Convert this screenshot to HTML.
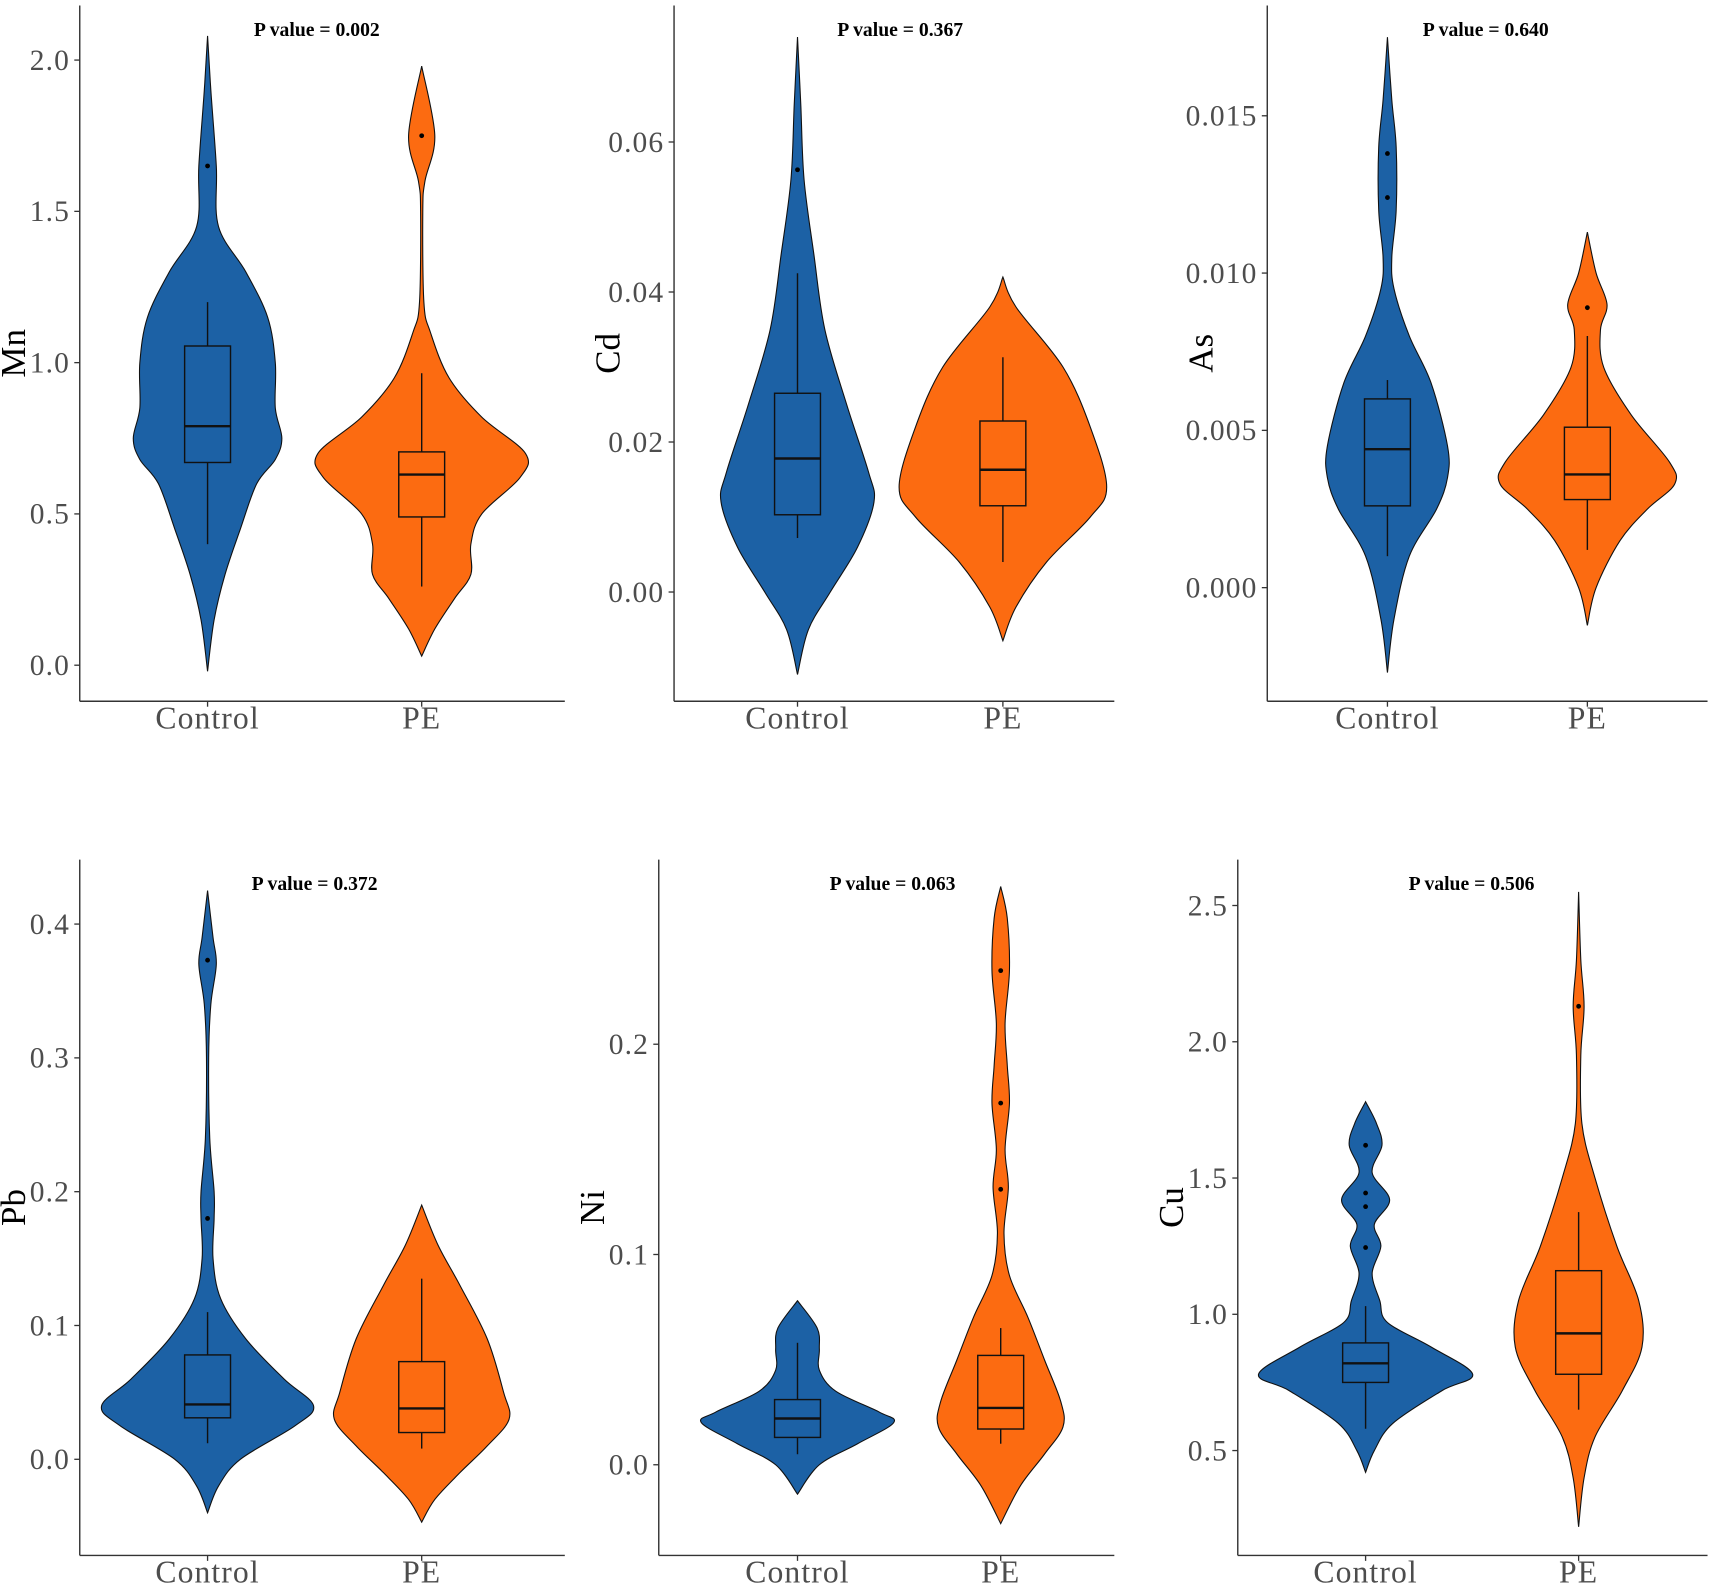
<!DOCTYPE html>
<html><head><meta charset="utf-8">
<style>html,body{margin:0;padding:0;background:#fff;}svg{display:block;}text{font-family:"Liberation Serif",serif;}</style>
</head><body>
<svg id="c" width="1713" height="1586" viewBox="0 0 1568 1452" preserveAspectRatio="none" xmlns="http://www.w3.org/2000/svg"></svg>
<script>
const groups = ["Control","PE"];
const titles = ["Mn","Cd","As","Pb","Ni","Cu"];
const pvalues = ["0.002","0.367","0.640","0.372","0.063","0.506"];
const tickLabels = [["0.0","0.5","1.0","1.5","2.0"],["0.00","0.02","0.04","0.06"],["0.000","0.005","0.010","0.015"],["0.0","0.1","0.2","0.3","0.4"],["0.0","0.1","0.2"],["0.5","1.0","1.5","2.0","2.5"]];
const tickValues = [[0,0.5,1,1.5,2],[0,0.02,0.04,0.06],[0,0.005,0.01,0.015],[0,0.1,0.2,0.3,0.4],[0,0.1,0.2],[0.5,1,1.5,2,2.5]];
// violin density profiles: [value, relative half-width]
const violinControl = [
 [[2.08,0],[1.9,3],[1.65,8],[1.45,10],[1.3,35],[1.15,55],[1.0,62],[0.85,62],[0.75,68],[0.68,62],[0.6,45],[0.45,30],[0.3,16],[0.15,6],[-0.02,0]],
 [[0.074,0],[0.065,3],[0.055,6],[0.045,15],[0.035,25],[0.025,45],[0.016,65],[0.012,70],[0.006,55],[0.0,30],[-0.005,10],[-0.011,0]],
 [[0.0175,0],[0.0155,4],[0.014,8],[0.012,8],[0.0105,4],[0.0095,6],[0.008,20],[0.0065,40],[0.0045,55],[0.0035,55],[0.0025,45],[0.001,20],[-0.001,6],[-0.0027,0]],
 [[0.425,0],[0.39,5],[0.37,8],[0.34,3],[0.3,1],[0.24,2],[0.2,6],[0.18,6],[0.15,5],[0.12,12],[0.09,35],[0.06,70],[0.04,97],[0.025,80],[0.0,30],[-0.02,10],[-0.04,0]],
 [[0.078,0],[0.065,18],[0.055,20],[0.045,20],[0.035,35],[0.025,75],[0.02,88],[0.01,55],[0.0,20],[-0.014,0]],
 [[1.78,0],[1.7,10],[1.62,15],[1.52,6],[1.42,22],[1.33,8],[1.25,14],[1.15,6],[1.05,13],[0.97,20],[0.88,60],[0.78,98],[0.72,70],[0.6,25],[0.5,8],[0.42,0]]
];
const violinPE = [
 [[1.98,0],[1.75,12],[1.6,3],[1.5,1],[1.2,2],[1.1,8],[0.95,25],[0.82,55],[0.7,95],[0.62,90],[0.5,55],[0.4,45],[0.3,45],[0.22,30],[0.12,12],[0.03,0]],
 [[0.042,0],[0.038,12],[0.03,55],[0.022,80],[0.014,95],[0.01,80],[0.004,40],[-0.002,12],[-0.0065,0]],
 [[0.0113,0],[0.01,8],[0.009,18],[0.0082,12],[0.007,15],[0.0055,40],[0.004,75],[0.0033,80],[0.0025,55],[0.0015,30],[0.0,8],[-0.0012,0]],
 [[0.19,0],[0.16,15],[0.13,35],[0.09,60],[0.05,75],[0.03,80],[0.01,60],[-0.01,35],[-0.03,12],[-0.047,0]],
 [[0.275,0],[0.26,6],[0.235,8],[0.21,4],[0.19,6],[0.172,8],[0.15,4],[0.132,7],[0.11,3],[0.09,8],[0.07,25],[0.05,40],[0.03,55],[0.018,57],[0.005,40],[-0.01,18],[-0.028,0]],
 [[2.55,0],[2.3,2],[2.13,5],[1.95,2],[1.7,3],[1.5,15],[1.25,35],[1.05,55],[0.88,58],[0.72,40],[0.55,15],[0.4,5],[0.22,0]]
];
// box stats: [lowWhisker, q1, median, q3, highWhisker]
const boxControl = [[0.4,0.67,0.79,1.055,1.2],[0.0072,0.0103,0.0178,0.0265,0.0425],[0.001,0.0026,0.0044,0.006,0.0066],[0.012,0.031,0.041,0.078,0.11],[0.005,0.013,0.022,0.031,0.058],[0.58,0.75,0.82,0.895,1.03]];
const boxPE = [[0.26,0.49,0.63,0.705,0.965],[0.004,0.0115,0.0163,0.0228,0.0313],[0.0012,0.0028,0.0036,0.0051,0.008],[0.008,0.02,0.038,0.073,0.135],[0.01,0.017,0.027,0.052,0.065],[0.65,0.78,0.93,1.16,1.375]];
const outControl = [[1.65],[0.0563],[0.0138,0.0124],[0.373,0.18],[],[1.62,1.445,1.395,1.245]];
const outPE = [[1.75],[],[0.0089],[],[0.235,0.172,0.131],[2.13]];

const panels = [
 {ax:73,right:517,top:5,bottom:642,cx:[190,386],v0:0,y0:609,v1:2,y1:55,pt:290},
 {ax:617,right:1020,top:5,bottom:642,cx:[730,918],v0:0,y0:542,v1:0.06,y1:130,pt:824},
 {ax:1160,right:1563,top:5,bottom:642,cx:[1270,1453],v0:0,y0:538,v1:0.015,y1:106,pt:1360},
 {ax:73,right:517,top:787,bottom:1424,cx:[190,386],v0:0,y0:1336,v1:0.4,y1:846,pt:288},
 {ax:603,right:1020,top:787,bottom:1424,cx:[730,916],v0:0,y0:1341,v1:0.2,y1:956,pt:817},
 {ax:1133,right:1563,top:787,bottom:1424,cx:[1250,1445],v0:0.5,y0:1328,v1:2.5,y1:829,pt:1347}
];
const colors = ["#1c61a5","#fc6b11"];
const svg = document.getElementById('c');
const NS = "http://www.w3.org/2000/svg";
function mk(tag, attrs, parent){const e=document.createElementNS(NS,tag);for(const k in attrs)e.setAttribute(k,attrs[k]);(parent||svg).appendChild(e);return e;}
function smooth(pts){
  let d="M"+pts[0][0]+","+pts[0][1];
  for(let i=0;i<pts.length-1;i++){
    const p0=pts[Math.max(0,i-1)],p1=pts[i],p2=pts[i+1],p3=pts[Math.min(pts.length-1,i+2)];
    const c1=[p1[0]+(p2[0]-p0[0])/6,p1[1]+(p2[1]-p0[1])/6];
    const c2=[p2[0]-(p3[0]-p1[0])/6,p2[1]-(p3[1]-p1[1])/6];
    d+=" C"+c1[0]+","+c1[1]+" "+c2[0]+","+c2[1]+" "+p2[0]+","+p2[1];
  }
  return d;
}
panels.forEach((p,i)=>{
  const y = v => p.y0 + (v-p.v0)*(p.y1-p.y0)/(p.v1-p.v0);
  const g = mk('g',{});
  
  
  const ya = mk('line',{x1:p.ax,y1:p.top,x2:p.ax,y2:p.bottom,stroke:'#333','stroke-width':1.3},g);
  
  
  const xa = mk('line',{x1:p.ax,y1:p.bottom,x2:p.right,y2:p.bottom,stroke:'#333','stroke-width':1.3},g);
  
  
  tickValues[i].forEach((tv,j)=>{
    const yy=y(tv);
    mk('line',{x1:p.ax-5,y1:yy,x2:p.ax,y2:yy,stroke:'#333','stroke-width':1.2},g);
    const t=mk('text',{x:p.ax-9,y:yy+9,'text-anchor':'end','font-size':27,fill:'#4d4d4d','letter-spacing':1},g);
    t.textContent=tickLabels[i][j];
    
    
  });
  const at=mk('text',{x:0,y:0,'font-size':32,fill:'#000','text-anchor':'middle',transform:`translate(${p.ax-50},${(p.top+p.bottom)/2 - 0}) rotate(-90)`},g);
  at.textContent=titles[i];
  
  
  const pt=mk('text',{x:p.pt,y:p.top+28,'text-anchor':'middle','font-size':18,'font-weight':'bold',fill:'#000'},g);
  pt.textContent='P value = '+pvalues[i];
  
  
  [0,1].forEach(k=>{
    const cx=p.cx[k];
    mk('line',{x1:cx,y1:p.bottom,x2:cx,y2:p.bottom+5,stroke:'#333','stroke-width':1.2},g);
    const xl=mk('text',{x:cx,y:p.bottom+25,'text-anchor':'middle','font-size':29,fill:'#4d4d4d','letter-spacing':1},g);
    xl.textContent=groups[k];
    
    
    const prof=(k===0?violinControl:violinPE)[i];
    const right=prof.map(q=>[cx+q[1],y(q[0])]);
    const left=prof.slice().reverse().map(q=>[cx-q[1],y(q[0])]);
    const d=smooth(right)+" "+smooth(left).replace(/^M/,"L")+" Z";
    const v=mk('path',{d:d,fill:colors[k],stroke:'#111','stroke-width':1},g);
    
    
    const b=(k===0?boxControl:boxPE)[i];
    const bw=21;
    mk('line',{x1:cx,y1:y(b[0]),x2:cx,y2:y(b[1]),stroke:'#111','stroke-width':1.3},g);
    mk('line',{x1:cx,y1:y(b[3]),x2:cx,y2:y(b[4]),stroke:'#111','stroke-width':1.3},g);
    const r=mk('rect',{x:cx-bw,y:y(b[3]),width:2*bw,height:y(b[1])-y(b[3]),fill:'none',stroke:'#111','stroke-width':1.3},g);
    
    
    mk('line',{x1:cx-bw,y1:y(b[2]),x2:cx+bw,y2:y(b[2]),stroke:'#111','stroke-width':2.2},g);
    (k===0?outControl:outPE)[i].forEach(o=>{
      const c=mk('circle',{cx:cx,cy:y(o),r:2.2,fill:'#000'},g);
      
      
    });
  });
});
</script>
</body></html>
